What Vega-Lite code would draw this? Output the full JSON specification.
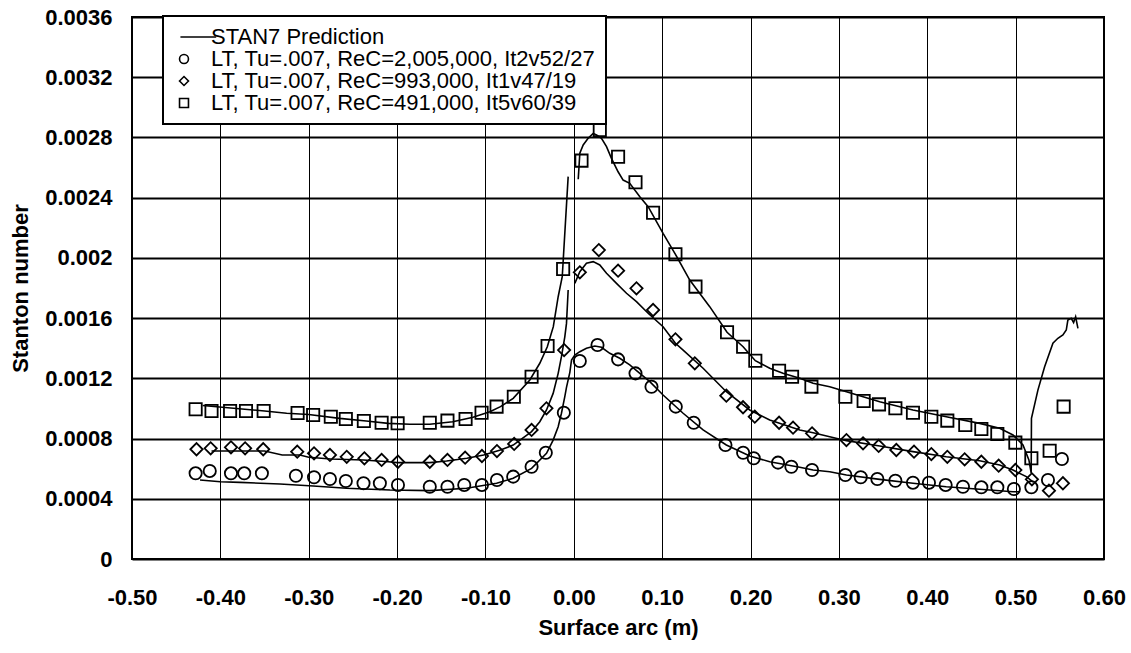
{
  "$schema": "https://vega.github.io/schema/vega-lite/v6.json",
  "width": 972,
  "height": 542,
  "autosize": {"type": "none"},
  "padding": {"left": 132, "top": 17, "right": 27, "bottom": 94},
  "background": "white",
  "config": {
    "view": {"stroke": "black", "strokeWidth": 2},
    "font": "Liberation Sans",
    "legend": {"strokeWidth": 2},
    "axis": {
      "labelFont": "Liberation Sans",
      "labelFontSize": 22,
      "labelFontWeight": "bold",
      "labelColor": "black",
      "titleFont": "Liberation Sans",
      "titleFontSize": 22,
      "titleFontWeight": "bold",
      "titleColor": "black",
      "domain": false,
      "ticks": false,
      "grid": true,
      "gridColor": "black",
      "gridOpacity": 1,
      "labelFlush": false,
      "labelOverlap": false
    }
  },
  "datasets": {
    "pts": [
      {"s": "C", "x": -0.428, "y": 0.000569},
      {"s": "C", "x": -0.412, "y": 0.000585},
      {"s": "C", "x": -0.388, "y": 0.000569},
      {"s": "C", "x": -0.373, "y": 0.000569},
      {"s": "C", "x": -0.353, "y": 0.000569},
      {"s": "C", "x": -0.3145, "y": 0.000553},
      {"s": "C", "x": -0.294, "y": 0.000543},
      {"s": "C", "x": -0.276, "y": 0.000531},
      {"s": "C", "x": -0.258, "y": 0.000518},
      {"s": "C", "x": -0.238, "y": 0.000503},
      {"s": "C", "x": -0.2195, "y": 0.000503},
      {"s": "C", "x": -0.199, "y": 0.000492},
      {"s": "C", "x": -0.163, "y": 0.00048},
      {"s": "C", "x": -0.143, "y": 0.00048},
      {"s": "C", "x": -0.124, "y": 0.000492},
      {"s": "C", "x": -0.104, "y": 0.000492},
      {"s": "C", "x": -0.087, "y": 0.000525},
      {"s": "C", "x": -0.0686, "y": 0.000547},
      {"s": "C", "x": -0.0478, "y": 0.000613},
      {"s": "C", "x": -0.0317, "y": 0.000706},
      {"s": "C", "x": -0.0113, "y": 0.000972},
      {"s": "C", "x": 0.0068, "y": 0.001315},
      {"s": "C", "x": 0.0268, "y": 0.001421},
      {"s": "C", "x": 0.0501, "y": 0.001326},
      {"s": "C", "x": 0.0698, "y": 0.001233},
      {"s": "C", "x": 0.0879, "y": 0.001144},
      {"s": "C", "x": 0.1154, "y": 0.001012},
      {"s": "C", "x": 0.1357, "y": 0.000905},
      {"s": "C", "x": 0.1716, "y": 0.000757},
      {"s": "C", "x": 0.1916, "y": 0.000706},
      {"s": "C", "x": 0.2036, "y": 0.000669},
      {"s": "C", "x": 0.2311, "y": 0.00064},
      {"s": "C", "x": 0.2462, "y": 0.000613},
      {"s": "C", "x": 0.2696, "y": 0.000591},
      {"s": "C", "x": 0.3073, "y": 0.000558},
      {"s": "C", "x": 0.3247, "y": 0.000543},
      {"s": "C", "x": 0.3435, "y": 0.000531},
      {"s": "C", "x": 0.3639, "y": 0.00052},
      {"s": "C", "x": 0.3838, "y": 0.000507},
      {"s": "C", "x": 0.4019, "y": 0.000507},
      {"s": "C", "x": 0.4208, "y": 0.000492},
      {"s": "C", "x": 0.4404, "y": 0.00048},
      {"s": "C", "x": 0.4612, "y": 0.000476},
      {"s": "C", "x": 0.4793, "y": 0.000476},
      {"s": "C", "x": 0.498, "y": 0.000465},
      {"s": "C", "x": 0.5178, "y": 0.000476},
      {"s": "C", "x": 0.5366, "y": 0.000525},
      {"s": "C", "x": 0.5524, "y": 0.000664},
      {"s": "D", "x": -0.427, "y": 0.000729},
      {"s": "D", "x": -0.411, "y": 0.000735},
      {"s": "D", "x": -0.388, "y": 0.000742},
      {"s": "D", "x": -0.372, "y": 0.000735},
      {"s": "D", "x": -0.3515, "y": 0.000729},
      {"s": "D", "x": -0.313, "y": 0.000713},
      {"s": "D", "x": -0.294, "y": 0.000702},
      {"s": "D", "x": -0.276, "y": 0.000691},
      {"s": "D", "x": -0.257, "y": 0.000679},
      {"s": "D", "x": -0.237, "y": 0.000669},
      {"s": "D", "x": -0.2175, "y": 0.000658},
      {"s": "D", "x": -0.199, "y": 0.000646},
      {"s": "D", "x": -0.163, "y": 0.000646},
      {"s": "D", "x": -0.143, "y": 0.000658},
      {"s": "D", "x": -0.123, "y": 0.000673},
      {"s": "D", "x": -0.104, "y": 0.000684},
      {"s": "D", "x": -0.087, "y": 0.000717},
      {"s": "D", "x": -0.0675, "y": 0.000764},
      {"s": "D", "x": -0.0478, "y": 0.000857},
      {"s": "D", "x": -0.031, "y": 0.001001},
      {"s": "D", "x": -0.011, "y": 0.001388},
      {"s": "D", "x": 0.0068, "y": 0.001904},
      {"s": "D", "x": 0.0283, "y": 0.002052},
      {"s": "D", "x": 0.0501, "y": 0.001915},
      {"s": "D", "x": 0.0709, "y": 0.001798},
      {"s": "D", "x": 0.0897, "y": 0.001654},
      {"s": "D", "x": 0.115, "y": 0.001459},
      {"s": "D", "x": 0.1369, "y": 0.0013},
      {"s": "D", "x": 0.1726, "y": 0.001085},
      {"s": "D", "x": 0.1915, "y": 0.001008},
      {"s": "D", "x": 0.2048, "y": 0.000945},
      {"s": "D", "x": 0.2323, "y": 0.000905},
      {"s": "D", "x": 0.2481, "y": 0.000872},
      {"s": "D", "x": 0.2696, "y": 0.000835},
      {"s": "D", "x": 0.3085, "y": 0.00079},
      {"s": "D", "x": 0.3273, "y": 0.000768},
      {"s": "D", "x": 0.345, "y": 0.000751},
      {"s": "D", "x": 0.365, "y": 0.000724},
      {"s": "D", "x": 0.385, "y": 0.000713},
      {"s": "D", "x": 0.4046, "y": 0.000697},
      {"s": "D", "x": 0.4227, "y": 0.000679},
      {"s": "D", "x": 0.4423, "y": 0.000662},
      {"s": "D", "x": 0.4612, "y": 0.000646},
      {"s": "D", "x": 0.4808, "y": 0.00062},
      {"s": "D", "x": 0.4997, "y": 0.000591},
      {"s": "D", "x": 0.5184, "y": 0.000529},
      {"s": "D", "x": 0.5377, "y": 0.000454},
      {"s": "D", "x": 0.5535, "y": 0.000503},
      {"s": "S", "x": -0.428, "y": 0.000994},
      {"s": "S", "x": -0.41, "y": 0.000983},
      {"s": "S", "x": -0.389, "y": 0.000983},
      {"s": "S", "x": -0.371, "y": 0.000983},
      {"s": "S", "x": -0.351, "y": 0.000983},
      {"s": "S", "x": -0.3126, "y": 0.00097},
      {"s": "S", "x": -0.295, "y": 0.000956},
      {"s": "S", "x": -0.275, "y": 0.000945},
      {"s": "S", "x": -0.258, "y": 0.00093},
      {"s": "S", "x": -0.2376, "y": 0.000917},
      {"s": "S", "x": -0.2175, "y": 0.000905},
      {"s": "S", "x": -0.1994, "y": 0.000901},
      {"s": "S", "x": -0.163, "y": 0.000905},
      {"s": "S", "x": -0.143, "y": 0.000919},
      {"s": "S", "x": -0.1225, "y": 0.00093},
      {"s": "S", "x": -0.1044, "y": 0.000972},
      {"s": "S", "x": -0.0874, "y": 0.001012},
      {"s": "S", "x": -0.0679, "y": 0.001078},
      {"s": "S", "x": -0.0478, "y": 0.001211},
      {"s": "S", "x": -0.0297, "y": 0.001415},
      {"s": "S", "x": -0.0121, "y": 0.001926},
      {"s": "S", "x": 0.0087, "y": 0.002646},
      {"s": "S", "x": 0.0294, "y": 0.00285},
      {"s": "S", "x": 0.0501, "y": 0.002672},
      {"s": "S", "x": 0.0698, "y": 0.002502},
      {"s": "S", "x": 0.0897, "y": 0.0023},
      {"s": "S", "x": 0.115, "y": 0.002024},
      {"s": "S", "x": 0.1377, "y": 0.001809},
      {"s": "S", "x": 0.1734, "y": 0.001506},
      {"s": "S", "x": 0.1916, "y": 0.00141},
      {"s": "S", "x": 0.2054, "y": 0.001317},
      {"s": "S", "x": 0.2323, "y": 0.001251},
      {"s": "S", "x": 0.247, "y": 0.001211},
      {"s": "S", "x": 0.2689, "y": 0.001145},
      {"s": "S", "x": 0.3073, "y": 0.001078},
      {"s": "S", "x": 0.328, "y": 0.001049},
      {"s": "S", "x": 0.3454, "y": 0.001027},
      {"s": "S", "x": 0.3639, "y": 0.001001},
      {"s": "S", "x": 0.3838, "y": 0.000972},
      {"s": "S", "x": 0.4046, "y": 0.000945},
      {"s": "S", "x": 0.4227, "y": 0.000919},
      {"s": "S", "x": 0.443, "y": 0.00089},
      {"s": "S", "x": 0.4612, "y": 0.000863},
      {"s": "S", "x": 0.4793, "y": 0.00083},
      {"s": "S", "x": 0.4997, "y": 0.000773},
      {"s": "S", "x": 0.5178, "y": 0.000669},
      {"s": "S", "x": 0.5385, "y": 0.000719},
      {"s": "S", "x": 0.5543, "y": 0.001012}
    ],
    "lines": [
      {"c": "Q1", "x": -0.42, "y": 0.00102},
      {"c": "Q1", "x": -0.35, "y": 0.000983},
      {"c": "Q1", "x": -0.325, "y": 0.000968},
      {"c": "Q1", "x": -0.3, "y": 0.00096},
      {"c": "Q1", "x": -0.265, "y": 0.000934},
      {"c": "Q1", "x": -0.235, "y": 0.000917},
      {"c": "Q1", "x": -0.21, "y": 0.000901},
      {"c": "Q1", "x": -0.1855, "y": 0.000895},
      {"c": "Q1", "x": -0.163, "y": 0.000895},
      {"c": "Q1", "x": -0.137, "y": 0.000912},
      {"c": "Q1", "x": -0.114, "y": 0.000941},
      {"c": "Q1", "x": -0.095, "y": 0.000978},
      {"c": "Q1", "x": -0.083, "y": 0.001012},
      {"c": "Q1", "x": -0.0686, "y": 0.001067},
      {"c": "Q1", "x": -0.0498, "y": 0.001189},
      {"c": "Q1", "x": -0.0385, "y": 0.0013},
      {"c": "Q1", "x": -0.03, "y": 0.00141},
      {"c": "Q1", "x": -0.0232, "y": 0.001543},
      {"c": "Q1", "x": -0.0177, "y": 0.001742},
      {"c": "Q1", "x": -0.0131, "y": 0.001875},
      {"c": "Q1", "x": -0.0064, "y": 0.00254},
      {"c": "Q2", "x": 0.005, "y": 0.002522},
      {"c": "Q2", "x": 0.0068, "y": 0.002695},
      {"c": "Q2", "x": 0.0106, "y": 0.00275},
      {"c": "Q2", "x": 0.0162, "y": 0.002794},
      {"c": "Q2", "x": 0.0219, "y": 0.002827},
      {"c": "Q2", "x": 0.0257, "y": 0.002816},
      {"c": "Q2", "x": 0.0313, "y": 0.002794},
      {"c": "Q2", "x": 0.037, "y": 0.002739},
      {"c": "Q2", "x": 0.0426, "y": 0.002661},
      {"c": "Q2", "x": 0.0501, "y": 0.002572},
      {"c": "Q2", "x": 0.0558, "y": 0.002517},
      {"c": "Q2", "x": 0.0633, "y": 0.002495},
      {"c": "Q2", "x": 0.0747, "y": 0.002406},
      {"c": "Q2", "x": 0.0841, "y": 0.00234},
      {"c": "Q2", "x": 0.101, "y": 0.002163},
      {"c": "Q2", "x": 0.115, "y": 0.002024},
      {"c": "Q2", "x": 0.1312, "y": 0.001853},
      {"c": "Q2", "x": 0.1538, "y": 0.001676},
      {"c": "Q2", "x": 0.1734, "y": 0.001506},
      {"c": "Q2", "x": 0.1916, "y": 0.00141},
      {"c": "Q2", "x": 0.2054, "y": 0.001317},
      {"c": "Q2", "x": 0.2217, "y": 0.001267},
      {"c": "Q2", "x": 0.2367, "y": 0.001233},
      {"c": "Q2", "x": 0.2557, "y": 0.0012},
      {"c": "Q2", "x": 0.2708, "y": 0.001167},
      {"c": "Q2", "x": 0.2896, "y": 0.001144},
      {"c": "Q2", "x": 0.3085, "y": 0.001111},
      {"c": "Q2", "x": 0.3462, "y": 0.001045},
      {"c": "Q2", "x": 0.3838, "y": 0.00099},
      {"c": "Q2", "x": 0.4215, "y": 0.000945},
      {"c": "Q2", "x": 0.4593, "y": 0.000901},
      {"c": "Q2", "x": 0.4819, "y": 0.000868},
      {"c": "Q2", "x": 0.497, "y": 0.000824},
      {"c": "Q2", "x": 0.5083, "y": 0.000757},
      {"c": "Q2", "x": 0.515, "y": 0.000658},
      {"c": "Q2", "x": 0.5176, "y": 0.00057},
      {"c": "Q2", "x": 0.5179, "y": 0.000934},
      {"c": "Q2", "x": 0.5252, "y": 0.001122},
      {"c": "Q2", "x": 0.5328, "y": 0.001277},
      {"c": "Q2", "x": 0.5422, "y": 0.001433},
      {"c": "Q2", "x": 0.5478, "y": 0.001466},
      {"c": "Q2", "x": 0.5535, "y": 0.001488},
      {"c": "Q2", "x": 0.5573, "y": 0.001521},
      {"c": "Q2", "x": 0.5591, "y": 0.001587},
      {"c": "Q2", "x": 0.5629, "y": 0.001599},
      {"c": "Q2", "x": 0.5656, "y": 0.00157},
      {"c": "Q2", "x": 0.5679, "y": 0.001609},
      {"c": "Q2", "x": 0.5705, "y": 0.001532},
      {"c": "D1", "x": -0.41, "y": 0.000717},
      {"c": "D1", "x": -0.35, "y": 0.000717},
      {"c": "D1", "x": -0.33, "y": 0.000691},
      {"c": "D1", "x": -0.31, "y": 0.000691},
      {"c": "D1", "x": -0.3, "y": 0.000676},
      {"c": "D1", "x": -0.275, "y": 0.000664},
      {"c": "D1", "x": -0.238, "y": 0.000658},
      {"c": "D1", "x": -0.21, "y": 0.000646},
      {"c": "D1", "x": -0.2, "y": 0.00064},
      {"c": "D1", "x": -0.163, "y": 0.00064},
      {"c": "D1", "x": -0.144, "y": 0.000651},
      {"c": "D1", "x": -0.121, "y": 0.000669},
      {"c": "D1", "x": -0.102, "y": 0.000691},
      {"c": "D1", "x": -0.083, "y": 0.000724},
      {"c": "D1", "x": -0.0686, "y": 0.000757},
      {"c": "D1", "x": -0.0478, "y": 0.000846},
      {"c": "D1", "x": -0.0385, "y": 0.000912},
      {"c": "D1", "x": -0.0309, "y": 0.00099},
      {"c": "D1", "x": -0.0234, "y": 0.0011},
      {"c": "D1", "x": -0.0177, "y": 0.001233},
      {"c": "D1", "x": -0.014, "y": 0.001344},
      {"c": "D1", "x": -0.0102, "y": 0.001476},
      {"c": "D1", "x": -0.0083, "y": 0.001565},
      {"c": "D1", "x": -0.0064, "y": 0.001787},
      {"c": "D2", "x": 0.0011, "y": 0.001831},
      {"c": "D2", "x": 0.0068, "y": 0.001908},
      {"c": "D2", "x": 0.0143, "y": 0.001964},
      {"c": "D2", "x": 0.0219, "y": 0.001975},
      {"c": "D2", "x": 0.0294, "y": 0.001953},
      {"c": "D2", "x": 0.037, "y": 0.001898},
      {"c": "D2", "x": 0.0483, "y": 0.001831},
      {"c": "D2", "x": 0.0596, "y": 0.001765},
      {"c": "D2", "x": 0.0709, "y": 0.001709},
      {"c": "D2", "x": 0.0841, "y": 0.001632},
      {"c": "D2", "x": 0.101, "y": 0.001543},
      {"c": "D2", "x": 0.115, "y": 0.001433},
      {"c": "D2", "x": 0.1237, "y": 0.001388},
      {"c": "D2", "x": 0.1463, "y": 0.001267},
      {"c": "D2", "x": 0.1726, "y": 0.001111},
      {"c": "D2", "x": 0.1991, "y": 0.00099},
      {"c": "D2", "x": 0.2217, "y": 0.000923},
      {"c": "D2", "x": 0.2557, "y": 0.000857},
      {"c": "D2", "x": 0.2708, "y": 0.000839},
      {"c": "D2", "x": 0.2896, "y": 0.000812},
      {"c": "D2", "x": 0.3085, "y": 0.000786},
      {"c": "D2", "x": 0.3462, "y": 0.000751},
      {"c": "D2", "x": 0.3838, "y": 0.000713},
      {"c": "D2", "x": 0.4215, "y": 0.000679},
      {"c": "D2", "x": 0.4593, "y": 0.000653},
      {"c": "D2", "x": 0.4819, "y": 0.000624},
      {"c": "D2", "x": 0.497, "y": 0.000591},
      {"c": "D2", "x": 0.5121, "y": 0.000547},
      {"c": "D2", "x": 0.5196, "y": 0.000513},
      {"c": "C1", "x": -0.423, "y": 0.000525},
      {"c": "C1", "x": -0.4, "y": 0.000513},
      {"c": "C1", "x": -0.378, "y": 0.000509},
      {"c": "C1", "x": -0.3326, "y": 0.000498},
      {"c": "C1", "x": -0.2949, "y": 0.000485},
      {"c": "C1", "x": -0.2571, "y": 0.00047},
      {"c": "C1", "x": -0.2081, "y": 0.000458},
      {"c": "C1", "x": -0.1629, "y": 0.000454},
      {"c": "C1", "x": -0.1214, "y": 0.00047},
      {"c": "C1", "x": -0.0874, "y": 0.000503},
      {"c": "C1", "x": -0.0686, "y": 0.000536},
      {"c": "C1", "x": -0.0478, "y": 0.000602},
      {"c": "C1", "x": -0.0309, "y": 0.000702},
      {"c": "C1", "x": -0.0234, "y": 0.00079},
      {"c": "C1", "x": -0.0177, "y": 0.000879},
      {"c": "C1", "x": -0.014, "y": 0.000968},
      {"c": "C1", "x": -0.0102, "y": 0.001078},
      {"c": "C1", "x": -0.0083, "y": 0.00114},
      {"c": "C1", "x": -0.0045, "y": 0.00124},
      {"c": "C1", "x": -0.0026, "y": 0.001322},
      {"c": "C1", "x": 0.0011, "y": 0.001355},
      {"c": "C1", "x": 0.0068, "y": 0.001377},
      {"c": "C1", "x": 0.0143, "y": 0.0014},
      {"c": "C1", "x": 0.0238, "y": 0.001415},
      {"c": "C1", "x": 0.0313, "y": 0.001406},
      {"c": "C1", "x": 0.0407, "y": 0.001366},
      {"c": "C1", "x": 0.052, "y": 0.001333},
      {"c": "C1", "x": 0.0633, "y": 0.001289},
      {"c": "C1", "x": 0.0747, "y": 0.001233},
      {"c": "C1", "x": 0.086, "y": 0.001178},
      {"c": "C1", "x": 0.101, "y": 0.001089},
      {"c": "C1", "x": 0.1237, "y": 0.000968},
      {"c": "C1", "x": 0.1463, "y": 0.000857},
      {"c": "C1", "x": 0.1726, "y": 0.000757},
      {"c": "C1", "x": 0.1991, "y": 0.000684},
      {"c": "C1", "x": 0.2217, "y": 0.000646},
      {"c": "C1", "x": 0.2557, "y": 0.000609},
      {"c": "C1", "x": 0.2708, "y": 0.000591},
      {"c": "C1", "x": 0.2896, "y": 0.00058},
      {"c": "C1", "x": 0.3085, "y": 0.000558},
      {"c": "C1", "x": 0.3462, "y": 0.000529},
      {"c": "C1", "x": 0.3838, "y": 0.000503},
      {"c": "C1", "x": 0.4215, "y": 0.00048},
      {"c": "C1", "x": 0.4593, "y": 0.000463},
      {"c": "C1", "x": 0.497, "y": 0.000447},
      {"c": "C1", "x": 0.5045, "y": 0.000447}
    ]
  },
  "layer": [
    {
      "data": {"name": "lines"},
      "mark": {"type": "line", "color": "black", "strokeWidth": 1.6},
      "encoding": {
        "x": {
          "field": "x", "type": "quantitative",
          "scale": {"domain": [-0.5, 0.6], "nice": false, "zero": false},
          "axis": {
            "values": [-0.5, -0.4, -0.3, -0.2, -0.1, 0, 0.1, 0.2, 0.3, 0.4, 0.5, 0.6],
            "labelExpr": "replace(format(datum.value, '.2f'), '\u2212', '-')",
            "gridWidth": 1,
            "labelPadding": 28,
            "title": "Surface arc (m)",
            "titlePadding": 9
          }
        },
        "y": {
          "field": "y", "type": "quantitative",
          "scale": {"domain": [0, 0.0036], "nice": false},
          "axis": {
            "values": [0, 0.0004, 0.0008, 0.0012, 0.0016, 0.002, 0.0024, 0.0028, 0.0032, 0.0036],
            "format": ".4~f",
            "gridWidth": 2,
            "labelPadding": 20,
            "title": "Stanton number",
            "titlePadding": 12
          }
        },
        "detail": {"field": "c", "type": "nominal"}
      }
    },
    {
      "data": {"name": "pts"},
      "mark": {"type": "point", "filled": false, "stroke": "black", "strokeWidth": 1.8, "size": 150, "opacity": 1},
      "encoding": {
        "x": {"field": "x", "type": "quantitative"},
        "y": {"field": "y", "type": "quantitative"},
        "shape": {
          "field": "s", "type": "nominal",
          "scale": {
            "domain": ["P", "C", "D", "S"],
            "range": ["M-0.8,0L7.2,0", "circle", "diamond", "square"]
          },
          "legend": {
            "orient": "none",
            "legendX": 31,
            "legendY": -1,
            "title": null,
            "labelExpr": "datum.value == 'P' ? 'STAN7 Prediction' : datum.value == 'C' ? 'LT, Tu=.007, ReC=2,005,000, It2v52/27' : datum.value == 'D' ? 'LT, Tu=.007, ReC=993,000, It1v47/19' : 'LT, Tu=.007, ReC=491,000, It5v60/39'",
            "strokeColor": "black",
            "fillColor": "white",
            "padding": 10,
            "labelFont": "Liberation Sans",
            "labelFontSize": 22,
            "labelFontWeight": "normal",
            "labelColor": "black",
            "labelLimit": 0,
            "labelOffset": 16,
            "rowPadding": -8,
            "symbolSize": 80,
            "symbolStrokeWidth": 1.6,
            "symbolStrokeColor": "black",
            "symbolOpacity": 1
          }
        }
      }
    }
  ]
}
